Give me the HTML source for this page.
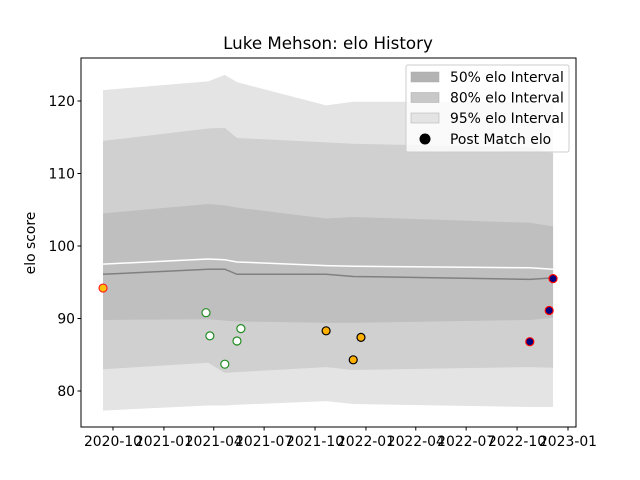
<!DOCTYPE html>
<html><head><meta charset="utf-8"><style>
html,body{margin:0;padding:0;background:#fff;}
svg{display:block;font-family:"DejaVu Sans","Liberation Sans",sans-serif;}
</style></head><body>
<svg id="chart" width="640" height="480" viewBox="0 0 640 480">
<rect x="0" y="0" width="640" height="480" fill="#fff"/>
<g id="plot"></g>
<text x="328" y="49" font-size="16.7" text-anchor="middle">Luke Mehson: elo History</text>
<text transform="translate(35,243) rotate(-90)" font-size="13.9" text-anchor="middle">elo score</text>
</svg>
<script>
// data: x in days since 2020-10-01
const bandDays = [-18, 172, 202, 224, 385, 434, 753, 795];
const median = [96.1, 96.8, 96.8, 96.1, 96.1, 95.8, 95.4, 95.6];
const meanLine = [97.5, 98.2, 98.1, 97.8, 97.3, 97.2, 97.0, 96.8];
const upper95 = [121.5, 122.7, 123.6, 122.6, 119.4, 119.9, 119.9, 119.6];
const upper80 = [114.5, 116.2, 116.3, 114.9, 114.3, 114.1, 113.6, 112.8];
const upper50 = [104.5, 105.8, 105.6, 105.3, 103.8, 104.0, 103.2, 102.7];
const lower50 = [89.8, 89.9, 89.7, 89.6, 89.4, 89.4, 89.8, 90.1];
const lower80 = [83.0, 83.9, 82.5, 82.6, 83.3, 82.9, 83.3, 83.2];
const lower95 = [77.3, 78.0, 78.0, 78.1, 78.6, 78.2, 77.8, 77.8];
const pointDays = [-18, 168, 175, 202, 224, 231, 385, 434, 448, 753, 788, 795];
const pointVals = [94.2, 90.8, 87.6, 83.7, 86.9, 88.6, 88.3, 84.3, 87.4, 86.8, 91.1, 95.5];
const pointGroup = [0, 1, 1, 1, 1, 1, 2, 2, 2, 3, 3, 3];
const yTicks = [80, 90, 100, 110, 120];
const xTickDays = [0, 92, 182, 273, 365, 457, 547, 638, 730, 822];
const xTickLabels = ["2020-10","2021-01","2021-04","2021-07","2021-10","2022-01","2022-04","2022-07","2022-10","2023-01"];

const NS = "http://www.w3.org/2000/svg";
const L = 81, R = 576, T = 58, B = 427;
const xs = d => 113 + d * (455 / 822);
const ys = v => 391 - (v - 80) * 7.25;
const plot = document.getElementById('plot');
function mk(tag, attrs, parent) {
  const e = document.createElementNS(NS, tag);
  for (const k in attrs) e.setAttribute(k, attrs[k]);
  (parent || plot).appendChild(e);
  return e;
}
function band(up, lo, fill, name) {
  let d = bandDays.map((x, i) => (i ? 'L' : 'M') + xs(x) + ',' + ys(up[i])).join('');
  for (let i = bandDays.length - 1; i >= 0; i--) d += 'L' + xs(bandDays[i]) + ',' + ys(lo[i]);
  const p = mk('path', {d: d + 'Z', fill: fill, stroke: 'none'});
  
  
}
band(upper95, lower95, '#e4e4e4', 'band-95');
band(upper80, lower80, '#d0d0d0', 'band-80');
band(upper50, lower50, '#bfbfbf', 'band-50');
function line(vals, color, name) {
  const d = bandDays.map((x, i) => (i ? 'L' : 'M') + xs(x) + ',' + ys(vals[i])).join('');
  const p = mk('path', {d: d, fill: 'none', stroke: color, 'stroke-width': 1.5});
  
  
}
line(meanLine, '#ffffff', 'mean-line');
line(median, '#808080', 'median-line');
const fills = ['#ffc107', '#ffffff', '#ffb000', '#000080'];
const edges = ['#ff2020', '#228b22', '#000000', '#ff0000'];
pointDays.forEach((d, i) => {
  const c = mk('circle', {cx: xs(d), cy: ys(pointVals[i]), r: 4, fill: fills[pointGroup[i]], stroke: edges[pointGroup[i]], 'stroke-width': 1.2});
  
  
});
const frame = mk('rect', {x: L, y: T, width: R - L, height: B - T, fill: 'none', stroke: '#000', 'stroke-width': 1});


yTicks.forEach(v => {
  const y = ys(v);
  const t = mk('line', {x1: L - 3.5, x2: L, y1: y, y2: y, stroke: '#000'});
  
  
  const tx = mk('text', {x: L - 6, y: y + 5, 'font-size': 13.9, 'text-anchor': 'end'});
  tx.textContent = v;
  
  
});
xTickDays.forEach((d, i) => {
  const x = xs(d);
  const t = mk('line', {x1: x, x2: x, y1: B, y2: B + 3.5, stroke: '#000'});
  
  
  const tx = mk('text', {x: x, y: B + 19, 'font-size': 13.9, 'text-anchor': 'middle'});
  tx.textContent = xTickLabels[i];
  
  
});
// legend
const lg = mk('g', {});


mk('rect', {x: 406, y: 65, width: 163, height: 87, rx: 2, fill: '#fff', 'fill-opacity': 0.8, stroke: '#ccc'}, lg);
const entries = [['#b3b3b3', '50% elo Interval'], ['#c8c8c8', '80% elo Interval'], ['#e4e4e4', '95% elo Interval']];
entries.forEach((e, i) => {
  const y = 76 + i * 20.5;
  const r = mk('rect', {x: 411, y: y - 4, width: 28, height: 10, fill: e[0], stroke: '#aaa', 'stroke-width': 0.5}, lg);
  
  
  const t = mk('text', {x: 450, y: y + 6, 'font-size': 13.9}, lg);
  t.textContent = e[1];
  
  
});
const dot = mk('circle', {cx: 425, cy: 139, r: 5.5, fill: '#000'}, lg);


const lt = mk('text', {x: 450, y: 144, 'font-size': 13.9}, lg);
lt.textContent = 'Post Match elo';


</script>
</body></html>
